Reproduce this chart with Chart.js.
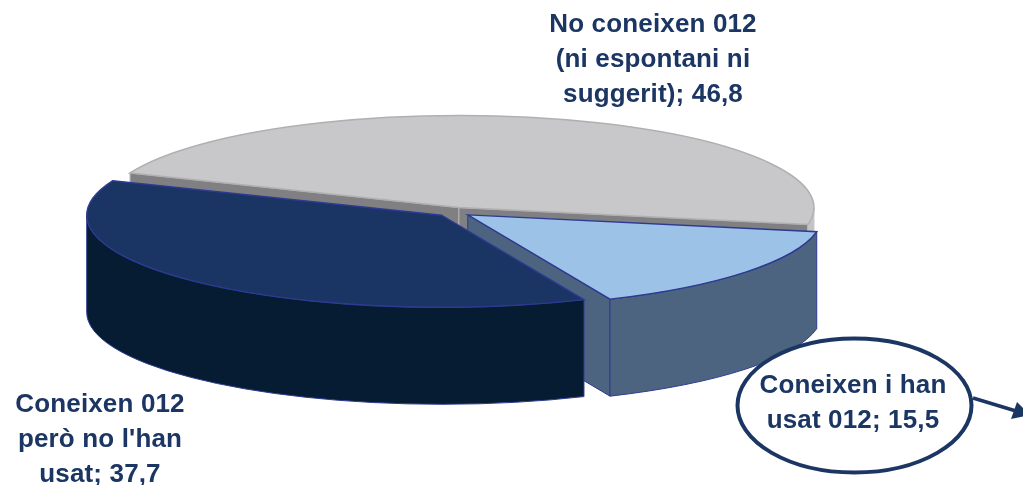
<!DOCTYPE html>
<html>
<head>
<meta charset="utf-8">
<script src="https://cdn.jsdelivr.net/npm/chart.js@4"></script>
<style>
  html, body { margin: 0; padding: 0; background: #fff; }
  #wrap { width: 1023px; height: 485px; overflow: hidden; }
</style>
</head>
<body>
<div id="wrap"><canvas id="pie" width="1023" height="485"></canvas></div>
<script>
const categories = ["No coneixen 012", "Coneixen i han usat 012", "Coneixen 012 però no l'han usat"];
const values = [46.8, 15.5, 37.7];
const labelLines = [
  ["No coneixen 012", "(ni espontani ni", "suggerit);"],
  ["Coneixen i han", "usat 012;"],
  ["Coneixen 012", "però no l'han", "usat;"]
];
const topColors = ["#c8c8ca", "#9cc2e8", "#1a3563"];
const wallColors = ["#808082", "#4d6480", "#051c33"];
const rimColors = ["#c4c4c6", "#4d6480", "#051c33"];
const edgeColors = ["#b0b0b2", "#2e3a92", "#2e3a92"];

// how the flat pie is laid on the page
const CX = 454, CY = 212, RX = 355, RY = 92, DEPTH = 97, EXPLODE = 0.05;
const TEXT_COLOR = "#1c3664";
const labelX = [653, 853, 100];
const labelY = [25, 386, 405];
const LINE_H = 35;

const fmt = (v) => String(v).replace(".", ",");

function sliceCentre(a, b) {
  const mid = (a + b) / 2;
  return { x: CX + EXPLODE * 352 * Math.cos(mid), y: CY + EXPLODE * RY * Math.sin(mid) };
}

function rimPath(ctx, c, a, b) {
  ctx.beginPath();
  ctx.ellipse(c.x, c.y, RX, RY, 0, a, b);
  ctx.ellipse(c.x, c.y + DEPTH, RX, RY, 0, b, a, true);
  ctx.closePath();
}

function cutPath(ctx, c, a) {
  const ex = c.x + RX * Math.cos(a), ey = c.y + RY * Math.sin(a);
  ctx.beginPath();
  ctx.moveTo(c.x, c.y);
  ctx.lineTo(ex, ey);
  ctx.lineTo(ex, ey + DEPTH);
  ctx.lineTo(c.x, c.y + DEPTH);
  ctx.closePath();
}

function drawWalls(ctx, arc, i) {
  const a = arc.startAngle, b = arc.endAngle;
  const c = sliceCentre(a, b);
  ctx.lineWidth = 1;
  ctx.strokeStyle = i === 0 ? "#b4b4b6" : edgeColors[i];
  ctx.fillStyle = wallColors[i];
  if (-Math.cos(a) > 0) { cutPath(ctx, c, a); ctx.fill(); ctx.stroke(); }
  if (Math.cos(b) > 0) { cutPath(ctx, c, b); ctx.fill(); ctx.stroke(); }
  // only the front half of the rim can be seen
  ctx.fillStyle = rimColors[i];
  ctx.strokeStyle = i === 0 ? rimColors[0] : edgeColors[i];
  for (let k = 0; k < 2; k++) {
    const from = Math.max(a, k * 2 * Math.PI);
    const to = Math.min(b, k * 2 * Math.PI + Math.PI);
    if (to > from) { rimPath(ctx, c, from, to); ctx.fill(); ctx.stroke(); }
  }
}

function drawTop(ctx, arc, i) {
  const a = arc.startAngle, b = arc.endAngle;
  const c = sliceCentre(a, b);
  ctx.save();
  ctx.translate(c.x, c.y);
  ctx.scale(RX / arc.outerRadius, RY / arc.outerRadius);
  ctx.translate(-arc.x, -arc.y);
  arc.draw(ctx);
  ctx.restore();
  ctx.beginPath();
  ctx.moveTo(c.x, c.y);
  ctx.ellipse(c.x, c.y, RX, RY, 0, a, b);
  ctx.closePath();
  ctx.lineWidth = i === 0 ? 1.5 : 1.4;
  ctx.strokeStyle = edgeColors[i];
  ctx.stroke();
}

function drawCallout(ctx) {
  ctx.beginPath();
  ctx.moveTo(973, 398);
  ctx.lineTo(1016, 411);
  ctx.lineWidth = 3.5;
  ctx.strokeStyle = TEXT_COLOR;
  ctx.stroke();
  ctx.beginPath();
  ctx.moveTo(1030, 415);
  ctx.lineTo(1017, 402);
  ctx.lineTo(1011, 419);
  ctx.closePath();
  ctx.fillStyle = TEXT_COLOR;
  ctx.fill();
  ctx.beginPath();
  ctx.ellipse(854.5, 405.5, 117, 67, 0, 0, 2 * Math.PI);
  ctx.fillStyle = "#fff";
  ctx.fill();
  ctx.lineWidth = 4;
  ctx.stroke();
}

function drawLabels(ctx) {
  ctx.fillStyle = TEXT_COLOR;
  ctx.font = "bold 26px 'Liberation Sans', Arial, sans-serif";
  ctx.letterSpacing = "0.15px";
  ctx.textAlign = "center";
  ctx.textBaseline = "middle";
  labelLines.forEach((lines, i) => {
    lines.forEach((line, j) => {
      const last = j === lines.length - 1;
      const txt = last ? line + " " + fmt(values[i]) : line;
      ctx.fillText(txt, labelX[i], labelY[i] + j * LINE_H);
    });
  });
}

const pie3d = {
  id: "pie3d",
  beforeDatasetsDraw(chart) {
    const ctx = chart.ctx;
    const arcs = chart.getDatasetMeta(0).data;
    ctx.save();
    arcs.forEach((arc, i) => {
      drawWalls(ctx, arc, i);
      drawTop(ctx, arc, i);
    });
    ctx.restore();
    return false;
  },
  afterDraw(chart) {
    const ctx = chart.ctx;
    ctx.save();
    drawCallout(ctx);
    drawLabels(ctx);
    ctx.restore();
  }
};

new Chart(document.getElementById("pie"), {
  type: "pie",
  data: {
    labels: categories,
    datasets: [{ data: values, backgroundColor: topColors, borderWidth: 0 }]
  },
  options: {
    responsive: false,
    animation: false,
    events: [],
    rotation: 292.1,
    plugins: { legend: { display: false }, tooltip: { enabled: false } }
  },
  plugins: [pie3d]
});
</script>
</body>
</html>
